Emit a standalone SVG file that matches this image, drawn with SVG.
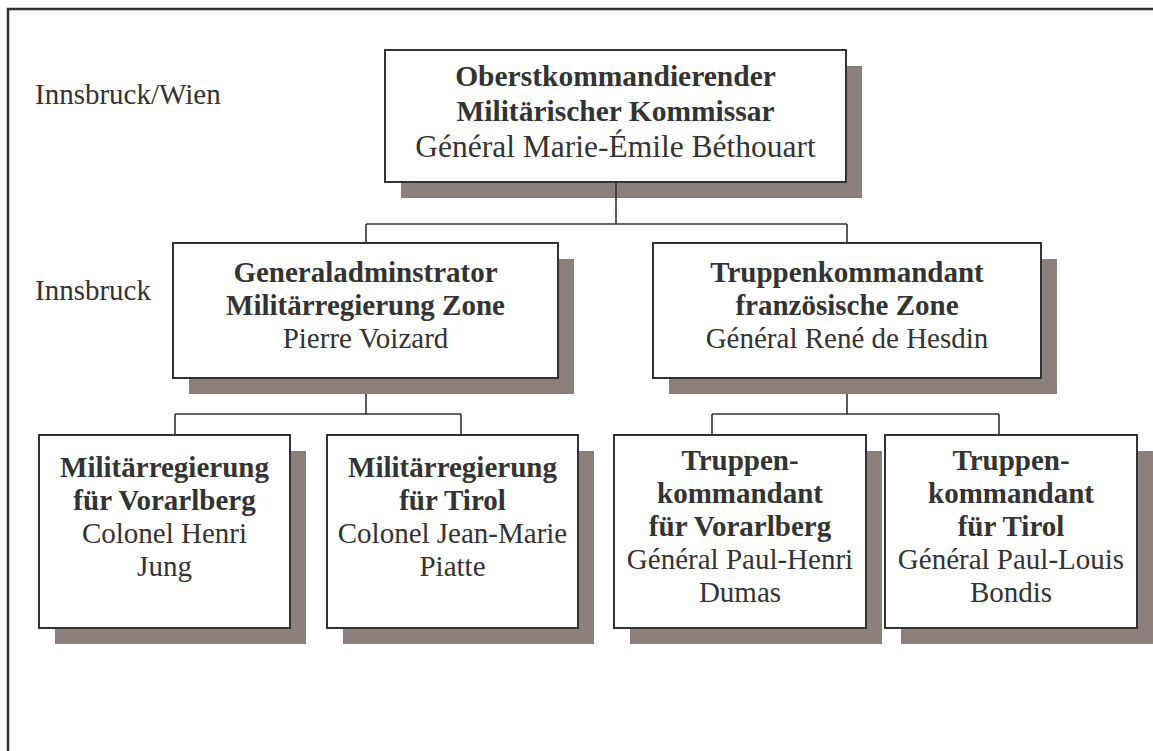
<svg xmlns="http://www.w3.org/2000/svg" width="1153" height="751" viewBox="0 0 1153 751">
<style>
.bg{fill:#ffffff}
.frame{fill:none;stroke:#333;stroke-width:2.5}
.box{fill:#ffffff;stroke:#333;stroke-width:2}
.sh{fill:#8c807c}
.ln{fill:none;stroke:#333;stroke-width:1.6}
text{font-family:"Liberation Serif","Times New Roman",serif;font-size:29px;fill:#333;text-anchor:middle}
.b{font-weight:bold}
.tb{font-size:29.5px}
.tr{font-size:31.5px}
.lbl{text-anchor:start}
</style>
<rect class="bg" x="0" y="0" width="1153" height="751"/>
<path class="frame" d="M8 751 V9 H1153"/>
<text class="lbl" x="35" y="104">Innsbruck/Wien</text>
<text class="lbl" x="35" y="300">Innsbruck</text>
<g id="top">
<rect class="sh" x="401" y="66" width="461" height="132"/>
<rect class="box" x="385" y="50" width="461" height="132"/>
<text x="615.5" y="86" class="b tb">Oberstkommandierender</text>
<text x="615.5" y="121" class="b tb">Militärischer Kommissar</text>
<text x="615.5" y="157" class="tr">Général Marie-Émile Béthouart</text>
</g>
<g id="connectors">
<path class="ln" d="M616 182 V224 M366 224 H847 M366 224 V243 M847 224 V243"/>
<path class="ln" d="M366 378 V414 M175 414 H461 M175 414 V435 M461 414 V435"/>
<path class="ln" d="M847 378 V414 M712 414 H999 M712 414 V435 M999 414 V435"/>
</g>
<g id="genadmin">
<rect class="sh" x="189" y="259" width="385" height="135"/>
<rect class="box" x="173" y="243" width="385" height="135"/>
<text x="365.5" y="282" class="b">Generaladminstrator</text>
<text x="365.5" y="315" class="b">Militärregierung Zone</text>
<text x="365.5" y="348">Pierre Voizard</text>
</g>
<g id="truppenkdt">
<rect class="sh" x="669" y="259" width="388" height="135"/>
<rect class="box" x="653" y="243" width="388" height="135"/>
<text x="847" y="282" class="b">Truppenkommandant</text>
<text x="847" y="315" class="b">französische Zone</text>
<text x="847" y="348">Général René de Hesdin</text>
</g>
<g id="mr-vorarlberg">
<rect class="sh" x="55" y="451" width="251" height="193"/>
<rect class="box" x="39" y="435" width="251" height="193"/>
<text x="164.5" y="477" class="b">Militärregierung</text>
<text x="164.5" y="510" class="b">für Vorarlberg</text>
<text x="164.5" y="543">Colonel Henri</text>
<text x="164.5" y="576">Jung</text>
</g>
<g id="mr-tirol">
<rect class="sh" x="343" y="451" width="251" height="193"/>
<rect class="box" x="327" y="435" width="251" height="193"/>
<text x="452.5" y="477" class="b">Militärregierung</text>
<text x="452.5" y="510" class="b">für Tirol</text>
<text x="452.5" y="543">Colonel Jean-Marie</text>
<text x="452.5" y="576">Piatte</text>
</g>
<g id="tk-vorarlberg">
<rect class="sh" x="630" y="451" width="252" height="193"/>
<rect class="box" x="614" y="435" width="252" height="193"/>
<text x="740" y="470" class="b">Truppen-</text>
<text x="740" y="503" class="b">kommandant</text>
<text x="740" y="536" class="b">für Vorarlberg</text>
<text x="740" y="569">Général Paul-Henri</text>
<text x="740" y="602">Dumas</text>
</g>
<g id="tk-tirol">
<rect class="sh" x="901" y="451" width="252" height="193"/>
<rect class="box" x="885" y="435" width="252" height="193"/>
<text x="1011" y="470" class="b">Truppen-</text>
<text x="1011" y="503" class="b">kommandant</text>
<text x="1011" y="536" class="b">für Tirol</text>
<text x="1011" y="569">Général Paul-Louis</text>
<text x="1011" y="602">Bondis</text>
</g>
</svg>
